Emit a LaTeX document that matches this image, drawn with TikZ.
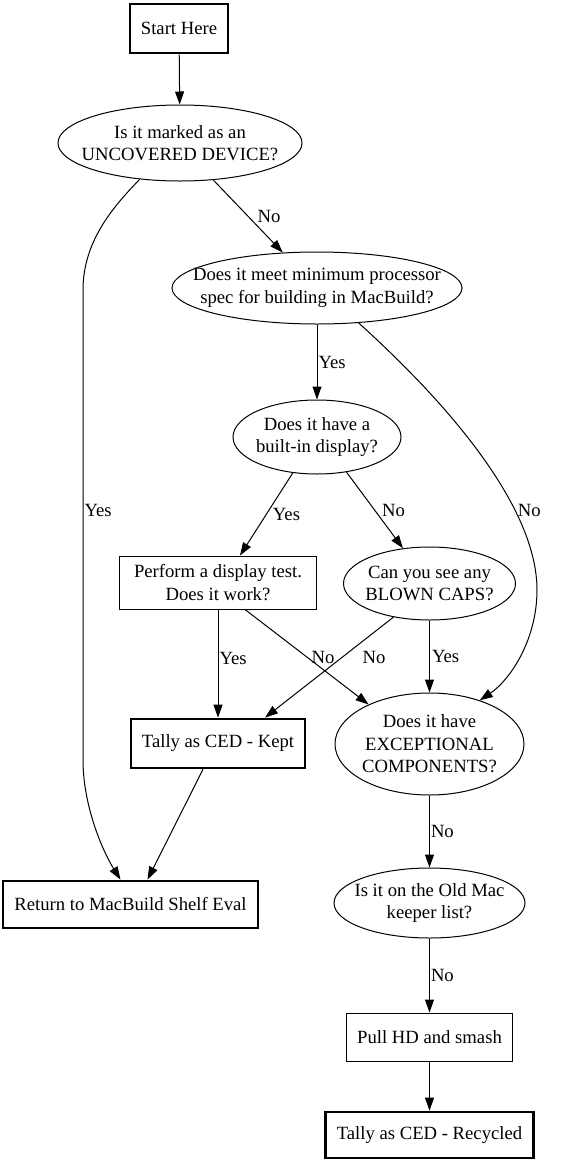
\documentclass[tikz,border=0pt]{standalone}
\usepackage{fontspec}
\setmainfont{Liberation Serif}
\usetikzlibrary{shapes.geometric,arrows.meta}
\begin{document}
\begin{tikzpicture}[
  x=1pt, y=-1pt,
  line width=1pt,
  >={Triangle[length=13pt,width=9pt]},
  every node/.style={font=\fontsize{18.67}{22.4}\selectfont},
  box/.style={draw, rectangle, align=center, inner sep=0pt},
  endbox/.style={box, line width=2.7pt},
  ask/.style={draw, ellipse, inner sep=0pt},
  lbl/.style={inner sep=1pt}
]
\useasboundingbox (0,0) rectangle (584,1165);
\node[endbox, minimum width=98pt, minimum height=49pt] (start) at (179,28.5) {Start Here};
\node[ask, minimum width=244pt, minimum height=76pt,
  label={[align=center]center:Is it marked as an\\UNCOVERED DEVICE?}] (unc) at (180,143) {};
\node[ask, minimum width=290pt, minimum height=72pt,
  label={[align=center]center:Does it meet minimum processor\\spec for building in MacBuild?}] (proc) at (317,288) {};
\node[ask, minimum width=168pt, minimum height=74pt,
  label={[align=center]center:Does it have a\\built-in display?}] (disp) at (317,437) {};
\node[box, minimum width=197pt, minimum height=53pt] (test) at (218,582.5) {Perform a display test.\\Does it work?};
\node[ask, minimum width=172pt, minimum height=73pt,
  label={[align=center]center:Can you see any\\BLOWN CAPS?}] (blown) at (429.5,583.5) {};
\node[endbox, minimum width=174pt, minimum height=49pt] (kept) at (218,743.5) {Tally as CED - Kept};
\node[ask, minimum width=189pt, minimum height=102pt,
  label={[align=center]center:Does it have\\EXCEPTIONAL\\COMPONENTS?}] (exc) at (429.5,744) {};
\node[endbox, minimum width=255pt, minimum height=47pt] (ret) at (130.5,904.5) {Return to MacBuild Shelf Eval};
\node[ask, minimum width=191pt, minimum height=70pt,
  label={[align=center]center:Is it on the Old Mac\\keeper list?}] (old) at (429.5,903) {};
\node[box, minimum width=166pt, minimum height=48pt] (pull) at (429.5,1037) {Pull HD and smash};
\node[endbox, minimum width=208pt, minimum height=46pt] (recyc) at (429.5,1135) {Tally as CED - Recycled};

\draw[->] (start) -- (unc);
\draw[->] (unc.-48) -- node[lbl, midway, right=8pt] {No} (proc.134);
\draw[->] (unc.-138) .. controls (115,205) and (83,240) .. (83,290)
  -- node[lbl, pos=.47, right=0pt] {Yes} (83,760)
  .. controls (83,805) and (102,850) .. ([xshift=-10pt]ret.north);
\draw[->] (proc.south) -- node[lbl, midway, right=0pt] {Yes} (disp.north);
\draw[->] (proc.-40) .. controls (455,410) and (537,510) .. (537,590) node[lbl, pos=.69, right=1pt] {No}
  .. controls (537,640) and (510,680) .. (exc.41);
\draw[->] (disp.-124) -- node[lbl, midway, right=5pt] {Yes} ([xshift=22pt]test.north);
\draw[->] (disp.-50) -- node[lbl, midway, right=6pt] {No} (blown.127);
\draw[->] (test.south) -- node[lbl, pos=.45, right=0pt] {Yes} (kept.north);
\draw[->] ([xshift=27pt]test.south) -- node[lbl, pos=.51, right=2pt] {No} (exc.147);
\draw[->] (blown.-137) -- node[lbl, pos=.4, right=19pt] {No} ([xshift=47pt]kept.north);
\draw[->] (blown.south) -- node[lbl, midway, right=1pt] {Yes} (exc.north);
\draw[->] ([xshift=-15pt]kept.south) -- ([xshift=17pt]ret.north);
\draw[->] (exc.south) -- node[lbl, midway, right=0pt] {No} (old.north);
\draw[->] (old.south) -- node[lbl, midway, right=0pt] {No} (pull.north);
\draw[->] (pull) -- (recyc);
\end{tikzpicture}
\end{document}
